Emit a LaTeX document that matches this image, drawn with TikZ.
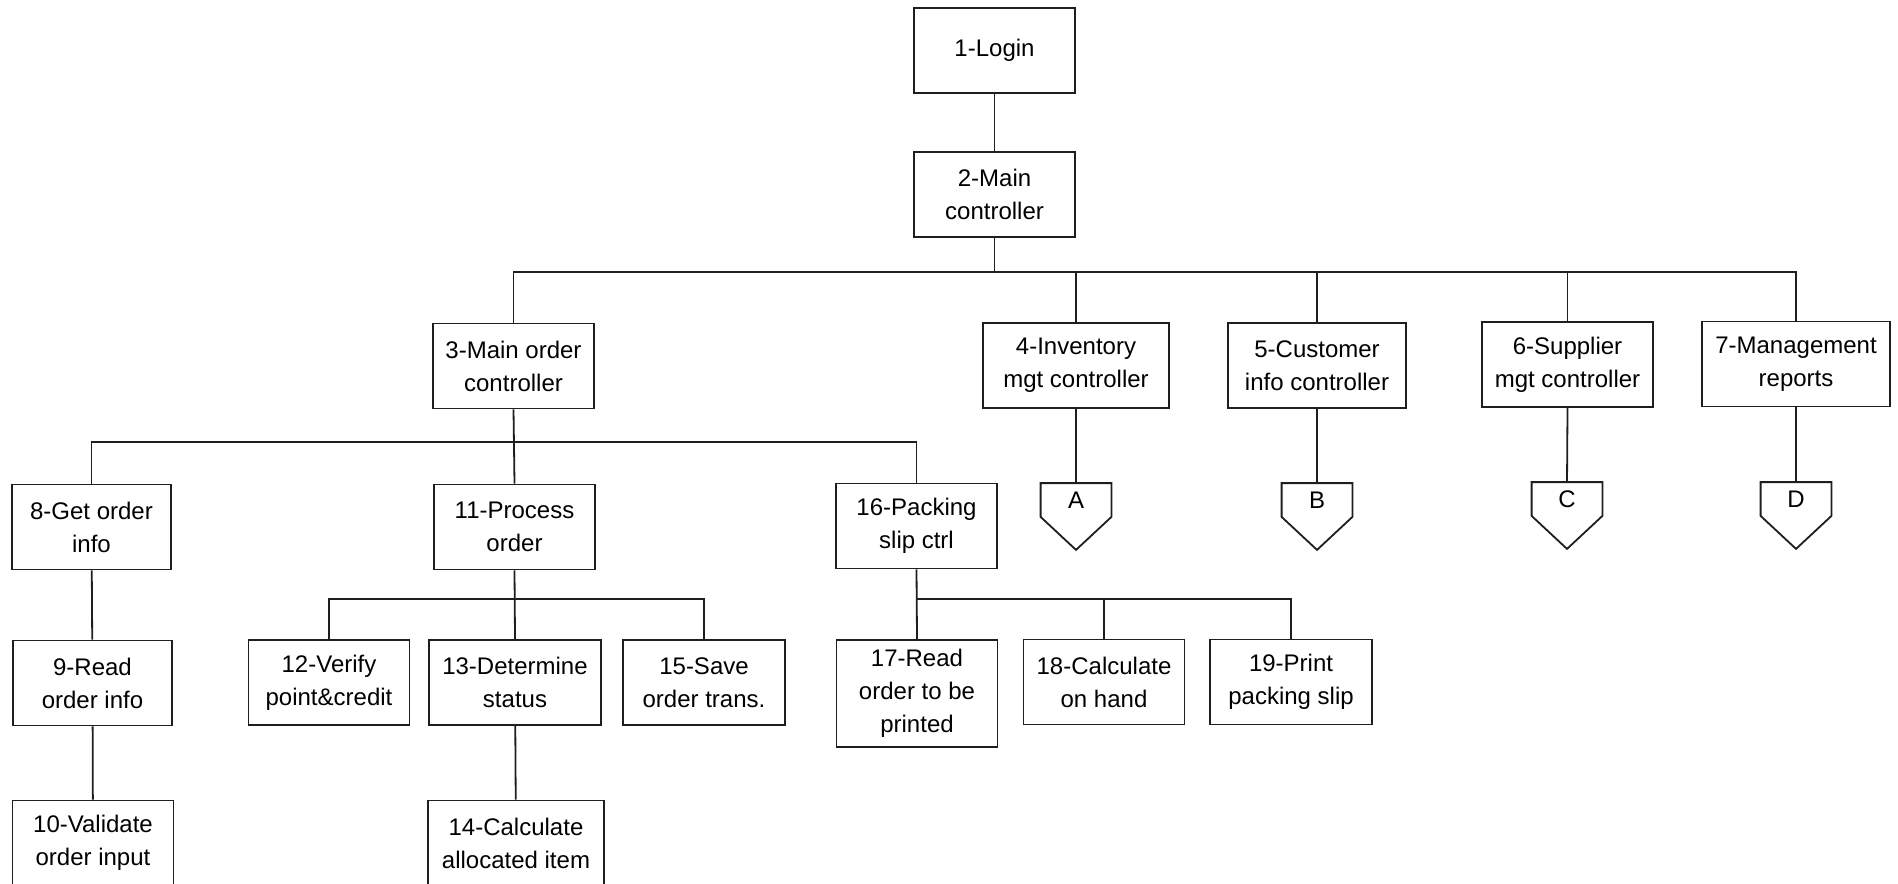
\documentclass[tikz,border=0pt]{standalone}
\usepackage{fontspec}
\setmainfont{Liberation Sans}
\usepackage{tikz}
\definecolor{ChartInk}{HTML}{1E1E1E}

\begin{document}
\begin{tikzpicture}[x=0.5pt,y=-0.5pt,line width=0.9pt]
  \tikzstyle{modbox}=[draw=ChartInk,minimum width=80.5pt,minimum height=42.5pt,
    inner sep=1pt,align=center,font=\fontsize{12}{16.5}\selectfont]
  \tikzstyle{offpage}=[minimum width=34.5pt,minimum height=16pt,inner sep=0pt,
    font=\fontsize{12}{14}\selectfont]
  \useasboundingbox (0,0) rectangle (1898,883);
  % top of the chart
  \node[modbox] (login) at (994.5,50.5) {1-Login};
  \node[modbox] (main) at (994.5,194.5) {2-Main\\controller};
  \node[modbox] (order) at (513.5,366) {3-Main order\\controller};
  \node[modbox,minimum width=93pt] (inv) at (1076,365.5) {4-Inventory\\mgt controller};
  \node[modbox,minimum width=89pt] (cust) at (1317,365.5) {5-Customer\\info controller};
  \node[modbox,minimum width=85.5pt] (supp) at (1567.5,364.5) {6-Supplier\\mgt controller};
  \node[modbox,minimum width=94pt] (mgt) at (1796,364) {7-Management\\reports};
  % off-page connectors
  \node[offpage] (conA) at (1076,500) {A};
  \node[offpage] (conB) at (1317,500) {B};
  \node[offpage] (conC) at (1567,499) {C};
  \node[offpage] (conD) at (1796,499) {D};
  % order branch
  \node[modbox,minimum width=79.5pt] (getinfo) at (91.5,527) {8-Get order\\info};
  \node[modbox] (process) at (514.5,527) {11-Process\\order};
  \node[modbox] (packing) at (916.5,526) {16-Packing\\slip ctrl};
  \node[modbox,minimum width=79.5pt] (readinfo) at (92.5,683) {9-Read\\order info};
  \node[modbox] (validate) at (93,843) {10-Validate\\order input};
  \node[modbox] (verify) at (329,682.5) {12-Verify\\point\&credit};
  \node[modbox,minimum width=86pt] (status) at (515,682.5) {13-Determine\\status};
  \node[modbox,minimum width=88pt] (alloc) at (516,843) {14-Calculate\\allocated item};
  \node[modbox,minimum width=81pt] (save) at (704,682.5) {15-Save\\order trans.};
  \node[modbox,minimum height=53.5pt] (readprint) at (917,693.5) {17-Read\\order to be\\printed};
  \node[modbox] (onhand) at (1104,682) {18-Calculate\\on hand};
  \node[modbox,minimum width=81pt] (printslip) at (1291,682) {19-Print\\packing slip};

  \coordinate (bus1) at (994.5,272);
  \coordinate (bus2) at (513.5,442);
  \coordinate (bus3) at (514.5,599);
  \coordinate (bus4) at (917,599);

  \draw[color=ChartInk] (login)--(main);
  \draw[color=ChartInk] (main.south)--(bus1);
  \draw[color=ChartInk] (order.north)--(order.north |- bus1)--(mgt.north |- bus1)--(mgt.north);
  \foreach \m in {inv,cust,supp}
    \draw[color=ChartInk] (\m.north)--(\m.north |- bus1);
  \foreach \m/\c in {inv/conA,cust/conB,supp/conC,mgt/conD}
    \draw[color=ChartInk] (\m.south)--(\c.north);
  \foreach \c in {conA,conB,conC,conD}
    \draw[color=ChartInk] (\c.north west)--(\c.north east)--(\c.south east)
      --([yshift=-16.5pt]\c.south)--(\c.south west)--cycle;

  \draw[color=ChartInk] (order.south)--(process.north);
  \draw[color=ChartInk] (getinfo.north)--(getinfo.north |- bus2)--(packing.north |- bus2)--(packing.north);
  \draw[color=ChartInk] (getinfo)--(readinfo);
  \draw[color=ChartInk] (readinfo)--(validate);

  \draw[color=ChartInk] (process.south)--(status.north);
  \draw[color=ChartInk] (verify.north)--(verify.north |- bus3)--(save.north |- bus3)--(save.north);
  \draw[color=ChartInk] (status)--(alloc);

  \draw[color=ChartInk] (packing.south)--(readprint.north);
  \draw[color=ChartInk] (readprint.north |- bus4)--(printslip.north |- bus4)--(printslip.north);
  \draw[color=ChartInk] (onhand.north)--(onhand.north |- bus4);
\end{tikzpicture}
\end{document}
